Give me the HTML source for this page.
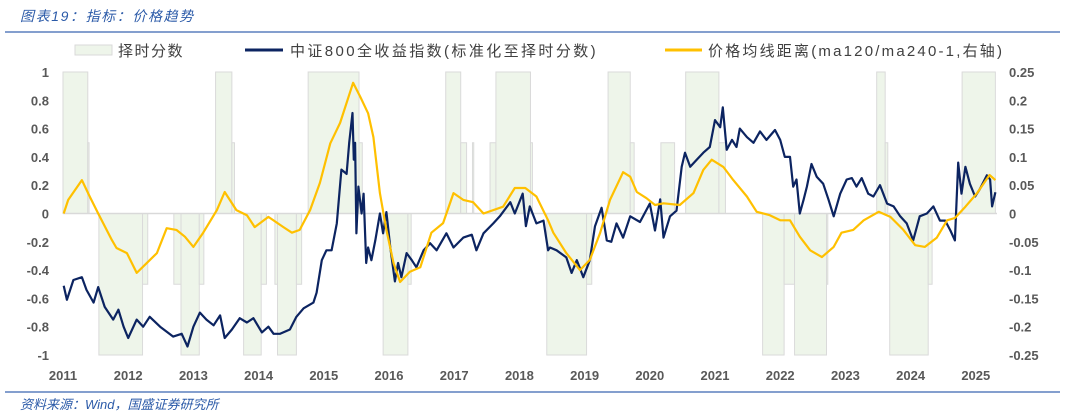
<!DOCTYPE html>
<html><head><meta charset="utf-8"><style>
body{margin:0;background:#fff;width:1065px;height:416px;overflow:hidden;font-family:"Liberation Sans","Noto Sans CJK SC",sans-serif}
svg{display:block}
</style></head><body>
<svg id="chart" width="1065" height="416" xmlns="http://www.w3.org/2000/svg">
<text x="20" y="21" font-size="14" letter-spacing="1.6" font-style="italic" fill="#2b5aa8" font-family="Liberation Sans,Noto Sans CJK SC,sans-serif">图表19：指标：价格趋势</text>
<line x1="5" y1="32" x2="1060" y2="32" stroke="#3a66b0" stroke-width="1.2"/>
<g font-size="15" fill="#404040">
<rect x="75" y="45" width="37" height="10" fill="#eef5ea" stroke="#d9d9d9"/>
<text x="118" y="56" letter-spacing="1.5">择时分数</text>
<line x1="245" y1="50" x2="283" y2="50" stroke="#0c2461" stroke-width="3"/>
<text x="290" y="56" letter-spacing="2.4">中证800全收益指数(标准化至择时分数)</text>
<line x1="665" y1="50" x2="702" y2="50" stroke="#ffc000" stroke-width="3"/>
<text x="708" y="56" letter-spacing="2.2">价格均线距离(ma120/ma240-1,右轴)</text>
</g>
<g id="bars"></g>
<line x1="63" y1="213.5" x2="997" y2="213.5" stroke="#d9d9d9" stroke-width="1.5"/>
<g id="lines"></g>
<g id="axes" font-size="13" font-weight="bold" fill="#595959"></g>
<line x1="5" y1="392" x2="1060" y2="392" stroke="#3a66b0" stroke-width="1.2"/>
<text x="20" y="409" font-size="13" font-style="italic" fill="#2b5aa8">资料来源：Wind，国盛证券研究所</text>
</svg>
<script>
const barStarts=[2011.00,2011.38,2011.55,2012.22,2012.70,2012.81,2013.09,2013.34,2013.59,2013.77,2014.04,2014.25,2014.29,2014.58,2014.76,2015.54,2015.91,2016.29,2016.87,2017.10,2017.28,2017.55,2017.64,2018.17,2018.42,2019.03,2019.36,2019.70,2020.17,2020.55,2021.06,2021.73,2022.06,2022.22,2022.71,2023.48,2023.61,2023.68,2024.27,2024.79];
const barEnds=[2011.38,2011.40,2012.22,2012.30,2012.81,2013.09,2013.16,2013.59,2013.63,2014.04,2014.12,2014.29,2014.58,2014.66,2015.54,2015.59,2016.29,2016.34,2017.10,2017.19,2017.30,2017.64,2018.17,2018.20,2019.03,2019.11,2019.70,2019.76,2020.38,2021.06,2021.16,2022.06,2022.22,2022.71,2022.73,2023.61,2023.65,2024.27,2024.33,2025.30];
const barValues=[1,0.5,-1,-0.5,-0.5,-1,-0.5,1,0.5,-1,-0.5,-0.5,-1,-0.5,1,0.5,-1,-0.5,1,0.5,0.5,0.5,1,0.5,-1,-0.5,1,0.5,0.5,1,0.5,-1,-0.5,-1,-0.5,1,0.5,-1,-0.5,1];
const idxDates=[2011.01,2011.06,2011.16,2011.29,2011.36,2011.47,2011.54,2011.64,2011.77,2011.85,2011.93,2012.00,2012.13,2012.23,2012.33,2012.49,2012.69,2012.82,2012.91,2013.00,2013.10,2013.20,2013.31,2013.41,2013.48,2013.59,2013.71,2013.82,2013.92,2014.05,2014.15,2014.23,2014.33,2014.48,2014.58,2014.69,2014.84,2014.89,2014.97,2015.04,2015.12,2015.20,2015.27,2015.35,2015.39,2015.44,2015.46,2015.48,2015.50,2015.53,2015.58,2015.61,2015.65,2015.68,2015.73,2015.79,2015.86,2015.91,2015.96,2016.02,2016.09,2016.14,2016.19,2016.27,2016.35,2016.42,2016.53,2016.63,2016.73,2016.88,2016.99,2017.14,2017.27,2017.34,2017.45,2017.60,2017.70,2017.86,2017.93,2018.05,2018.10,2018.16,2018.26,2018.37,2018.44,2018.47,2018.57,2018.72,2018.80,2018.88,2018.98,2019.08,2019.16,2019.26,2019.34,2019.41,2019.49,2019.59,2019.70,2019.85,2020.00,2020.08,2020.16,2020.21,2020.31,2020.41,2020.49,2020.54,2020.62,2020.72,2020.82,2020.92,2021.00,2021.08,2021.12,2021.18,2021.26,2021.33,2021.38,2021.49,2021.59,2021.69,2021.79,2021.92,2022.00,2022.07,2022.15,2022.20,2022.25,2022.30,2022.36,2022.41,2022.48,2022.56,2022.66,2022.74,2022.82,2022.92,2023.02,2023.10,2023.17,2023.25,2023.35,2023.43,2023.53,2023.64,2023.74,2023.84,2023.94,2024.04,2024.14,2024.25,2024.35,2024.45,2024.53,2024.61,2024.68,2024.73,2024.78,2024.84,2024.91,2024.99,2025.06,2025.17,2025.22,2025.25,2025.30];
const idxValues=[-0.51,-0.61,-0.47,-0.45,-0.54,-0.63,-0.52,-0.66,-0.75,-0.68,-0.80,-0.88,-0.75,-0.80,-0.73,-0.80,-0.87,-0.85,-0.94,-0.80,-0.70,-0.75,-0.79,-0.72,-0.88,-0.82,-0.74,-0.77,-0.74,-0.84,-0.80,-0.85,-0.85,-0.82,-0.73,-0.67,-0.63,-0.56,-0.33,-0.26,-0.26,-0.07,0.31,0.28,0.50,0.71,0.38,0.50,-0.14,0.19,0.0,0.14,-0.35,-0.24,-0.33,-0.19,0.0,-0.14,0.01,-0.24,-0.48,-0.35,-0.45,-0.28,-0.33,-0.38,-0.26,-0.21,-0.26,-0.14,-0.24,-0.17,-0.15,-0.26,-0.14,-0.07,-0.02,0.08,0.0,0.14,-0.09,0.05,-0.07,-0.05,-0.26,-0.24,-0.26,-0.31,-0.42,-0.33,-0.45,-0.33,-0.09,0.04,-0.19,-0.20,-0.07,-0.17,-0.02,-0.06,0.07,-0.12,0.10,-0.17,-0.02,0.02,0.33,0.43,0.33,0.38,0.43,0.47,0.66,0.61,0.75,0.45,0.52,0.47,0.60,0.54,0.50,0.58,0.52,0.59,0.52,0.40,0.40,0.19,0.24,0.0,0.10,0.19,0.35,0.26,0.21,0.10,-0.02,0.14,0.24,0.25,0.19,0.25,0.14,0.12,0.20,0.07,0.05,-0.02,-0.07,-0.19,-0.02,0.0,0.05,-0.05,-0.05,-0.12,-0.19,0.36,0.14,0.33,0.21,0.12,0.17,0.27,0.24,0.05,0.15];
const maDates=[2011.01,2011.08,2011.29,2011.41,2011.54,2011.75,2011.82,2011.98,2012.13,2012.28,2012.44,2012.59,2012.74,2012.87,2013.00,2013.15,2013.36,2013.48,2013.66,2013.82,2013.94,2014.15,2014.38,2014.51,2014.63,2014.79,2014.94,2015.10,2015.25,2015.45,2015.56,2015.68,2015.76,2015.86,2015.96,2016.07,2016.17,2016.32,2016.48,2016.65,2016.83,2016.99,2017.14,2017.29,2017.45,2017.75,2017.93,2018.09,2018.26,2018.44,2018.52,2018.72,2018.93,2019.08,2019.24,2019.39,2019.59,2019.70,2019.80,2019.95,2020.08,2020.21,2020.46,2020.67,2020.82,2020.95,2021.13,2021.28,2021.49,2021.64,2021.84,2022.00,2022.15,2022.30,2022.46,2022.64,2022.82,2022.94,2023.12,2023.28,2023.51,2023.69,2023.89,2024.07,2024.22,2024.40,2024.56,2024.68,2024.84,2025.02,2025.21,2025.30];
const maValues=[0,0.024,0.059,0.03,0,-0.047,-0.061,-0.07,-0.105,-0.088,-0.07,-0.026,-0.029,-0.041,-0.059,-0.034,0.006,0.038,0.006,-0.003,-0.024,-0.006,-0.024,-0.034,-0.029,0.006,0.054,0.124,0.16,0.231,0.206,0.177,0.135,0.036,-0.029,-0.088,-0.121,-0.103,-0.095,-0.034,-0.017,0.036,0.024,0.02,0,0.012,0.045,0.045,0.03,-0.012,-0.034,-0.07,-0.1,-0.082,-0.034,0.024,0.073,0.065,0.038,0.027,0.015,0.018,0.015,0.036,0.077,0.095,0.082,0.059,0.03,0.003,-0.003,-0.012,-0.012,-0.041,-0.065,-0.077,-0.059,-0.034,-0.029,-0.012,0.003,-0.006,-0.029,-0.056,-0.059,-0.043,-0.012,-0.008,0.012,0.036,0.068,0.059];
const leftTicks=[1,0.8,0.6,0.4,0.2,0,-0.2,-0.4,-0.6,-0.8,-1];
const rightTicks=[0.25,0.2,0.15,0.1,0.05,0,-0.05,-0.1,-0.15,-0.2,-0.25];
const yearTicks=[2011,2012,2013,2014,2015,2016,2017,2018,2019,2020,2021,2022,2023,2024,2025];

const NS='http://www.w3.org/2000/svg';
const X=d=>63+(d-2011)*65.2;
const YL=v=>213.5-v*141.5;
const YR=v=>213.5-v*566;
function mk(tag,attrs,parent){const e=document.createElementNS(NS,tag);for(const k in attrs)e.setAttribute(k,attrs[k]);parent.appendChild(e);return e;}
const bars=document.getElementById('bars');
barValues.forEach((v,i)=>{
  const x1=X(barStarts[i]),x2=X(barEnds[i]);
  const y=Math.min(YL(0),YL(v)),h=Math.abs(YL(v)-YL(0));
  const r=mk('rect',{x:x1,y:y,width:Math.max(1,x2-x1),height:h,fill:'#eef5ea',stroke:'#dadada','stroke-width':1},bars);
  
  
});
const lines=document.getElementById('lines');
const pI=idxDates.map((d,i)=>X(d).toFixed(1)+','+YL(idxValues[i]).toFixed(1)).join(' ');
const l1=mk('polyline',{points:pI,fill:'none',stroke:'#0c2461','stroke-width':2.2,'stroke-linejoin':'round'},lines);


const pM=maDates.map((d,i)=>X(d).toFixed(1)+','+YR(maValues[i]).toFixed(1)).join(' ');
const l2=mk('polyline',{points:pM,fill:'none',stroke:'#ffc000','stroke-width':2.2,'stroke-linejoin':'round'},lines);


const axes=document.getElementById('axes');
leftTicks.forEach(v=>{const t=mk('text',{x:49,y:YL(v)+5,'text-anchor':'end'},axes);t.textContent=String(v);
  
  });
rightTicks.forEach(v=>{const t=mk('text',{x:1009,y:YR(v)+5,'text-anchor':'start'},axes);t.textContent=String(v);
  
  });
yearTicks.forEach(v=>{const t=mk('text',{x:X(v),y:380,'text-anchor':'middle'},axes);t.textContent=String(v);
  
  });
</script>
</body></html>
